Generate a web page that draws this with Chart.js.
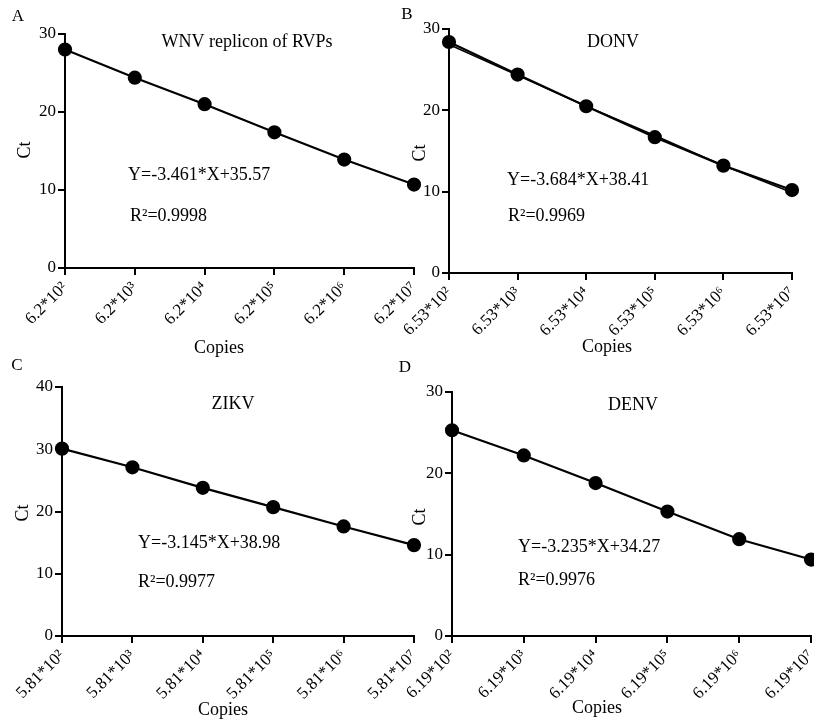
<!DOCTYPE html>
<html>
<head>
<meta charset="utf-8">
<script src="https://cdn.jsdelivr.net/npm/chart.js@4.4.1/dist/chart.umd.min.js"></script>
<style>
  html, body { margin: 0; padding: 0; background: #fff; }
  #wrap { position: relative; width: 814px; height: 724px; }
  #wrap canvas { position: absolute; left: 0; top: 0; pointer-events: none; }
</style>
</head>
<body>
<div id="wrap">
  <canvas id="chartA" width="814" height="724"></canvas>
  <canvas id="chartB" width="814" height="724"></canvas>
  <canvas id="chartC" width="814" height="724"></canvas>
  <canvas id="chartD" width="814" height="724"></canvas>
</div>
<script>
// exponents of the dilution series (copies = prefix * 10^exp)
const exponents = [2, 3, 4, 5, 6, 7];

// Ct values
const wnvCt   = [28.0, 24.4, 21.0, 17.4, 13.9, 10.7];
const donvCt  = [28.4, 24.4, 20.5, 16.7, 13.2, 10.2];
const donvCt2 = [28.1, 24.3, 20.5, 16.9, 13.2, 9.9];   // second, nearly overlapping run
const zikvCt  = [30.1, 27.1, 23.8, 20.7, 17.6, 14.6];
const denvCt  = [25.3, 22.2, 18.8, 15.3, 11.9, 9.4];

const prefixes = ['6.2', '6.53', '5.81', '6.19'];
const titles = ['WNV replicon of RVPs', 'DONV', 'ZIKV', 'DENV'];
const equations = ['Y=-3.461*X+35.57', 'Y=-3.684*X+38.41', 'Y=-3.145*X+38.98', 'Y=-3.235*X+34.27'];
const rSquared = ['R\u00b2=0.9998', 'R\u00b2=0.9969', 'R\u00b2=0.9977', 'R\u00b2=0.9976'];
const letters = ['A', 'B', 'C', 'D'];
const yMax = [30, 30, 40, 30];

const SUP = { 2: '\u00b2', 3: '\u00b3', 4: '\u2074', 5: '\u2075', 6: '\u2076', 7: '\u2077' };
const FONT = '"Liberation Serif", "DejaVu Serif", serif';
const W = 814, H = 724, Y_W = 40, X_H = 70;

// plot-area boxes and text anchors for each panel
const panels = [
  { area: { l: 65, t: 34, r: 414, b: 268 }, letter: [18, 17], title: [247, 42],
    eq: [128, 175], r2: [130, 216], ct: [25, 150], copies: [219, 348] },
  { area: { l: 449, t: 29, r: 792, b: 273 }, letter: [407, 15], title: [613, 42],
    eq: [507, 180], r2: [508, 216], ct: [420, 153], copies: [607, 347] },
  { area: { l: 62, t: 387, r: 414, b: 636 }, letter: [17, 366], title: [233, 404],
    eq: [138, 543], r2: [138, 582], ct: [23, 513], copies: [223, 710] },
  { area: { l: 452, t: 392, r: 811, b: 636 }, letter: [405, 368], title: [633, 405],
    eq: [518, 547], r2: [518, 580], ct: [420, 517], copies: [597, 708] }
];

// draws panel letter, title, equation and axis titles
const panelText = {
  id: 'panelText',
  afterDraw(chart, args, opts) {
    const ctx = chart.ctx;
    const p = opts.panel;
    const i = opts.index;
    ctx.save();
    ctx.fillStyle = '#000';
    ctx.textBaseline = 'middle';

    ctx.font = '17px ' + FONT;
    ctx.textAlign = 'center';
    ctx.fillText(letters[i], p.letter[0], p.letter[1]);

    ctx.font = '18px ' + FONT;
    ctx.fillText(titles[i], p.title[0], p.title[1]);
    ctx.fillText('Copies', p.copies[0], p.copies[1]);

    ctx.textAlign = 'left';
    ctx.fillText(equations[i], p.eq[0], p.eq[1]);
    ctx.fillText(rSquared[i], p.r2[0], p.r2[1]);

    ctx.translate(p.ct[0], p.ct[1]);
    ctx.rotate(-Math.PI / 2);
    ctx.textAlign = 'center';
    ctx.fillText('Ct', 0, 0);
    ctx.restore();
  }
};

function toPoints(xs, ys) {
  return xs.map((x, k) => ({ x: x, y: ys[k] }));
}

function makeChart(id, index, datasets) {
  const p = panels[index];
  const a = p.area;
  return new Chart(document.getElementById(id), {
    type: 'scatter',
    data: { datasets: datasets },
    plugins: [panelText],
    options: {
      responsive: false,
      animation: false,
      events: [],
      layout: {
        autoPadding: false,
        padding: { left: a.l - Y_W, top: a.t, right: W - a.r, bottom: H - a.b - X_H }
      },
      plugins: {
        legend: { display: false },
        tooltip: { enabled: false },
        panelText: { panel: p, index: index }
      },
      scales: {
        x: {
          type: 'linear',
          min: 2,
          max: 7,
          afterFit: (s) => { s.height = X_H; s.paddingLeft = 0; s.paddingRight = 0; },
          afterBuildTicks: (s) => { s.ticks = exponents.map(v => ({ value: v })); },
          border: { display: true, color: '#000', width: 2 },
          grid: { drawOnChartArea: false, drawTicks: true, tickLength: 7, color: '#000', lineWidth: 2 },
          ticks: {
            autoSkip: false,
            minRotation: 45,
            maxRotation: 45,
            padding: 3,
            color: '#000',
            font: { family: FONT, size: 17 },
            callback: (v) => prefixes[index] + '*10' + SUP[v]
          }
        },
        y: {
          min: 0,
          max: yMax[index],
          afterFit: (s) => { s.width = Y_W; s.paddingTop = 0; s.paddingBottom = 0; },
          border: { display: true, color: '#000', width: 2 },
          grid: { drawOnChartArea: false, drawTicks: true, tickLength: 7, color: '#000', lineWidth: 2 },
          ticks: {
            stepSize: 10,
            padding: 2,
            color: '#000',
            font: { family: FONT, size: 17 }
          }
        }
      }
    }
  });
}

function dataLine(values) {
  return {
    data: toPoints(exponents, values),
    showLine: true,
    borderColor: '#000',
    borderWidth: 2.2,
    backgroundColor: '#000',
    pointBackgroundColor: '#000',
    pointBorderColor: '#000',
    pointRadius: 6,
    clip: false
  };
}

makeChart('chartA', 0, [dataLine(wnvCt)]);
makeChart('chartB', 1, [
  dataLine(donvCt),
  {
    data: toPoints(exponents, donvCt2),
    showLine: true,
    borderColor: '#000',
    borderWidth: 1.5,
    pointRadius: 0,
    clip: false
  }
]);
makeChart('chartC', 2, [dataLine(zikvCt)]);
makeChart('chartD', 3, [dataLine(denvCt)]);
</script>
</body>
</html>
